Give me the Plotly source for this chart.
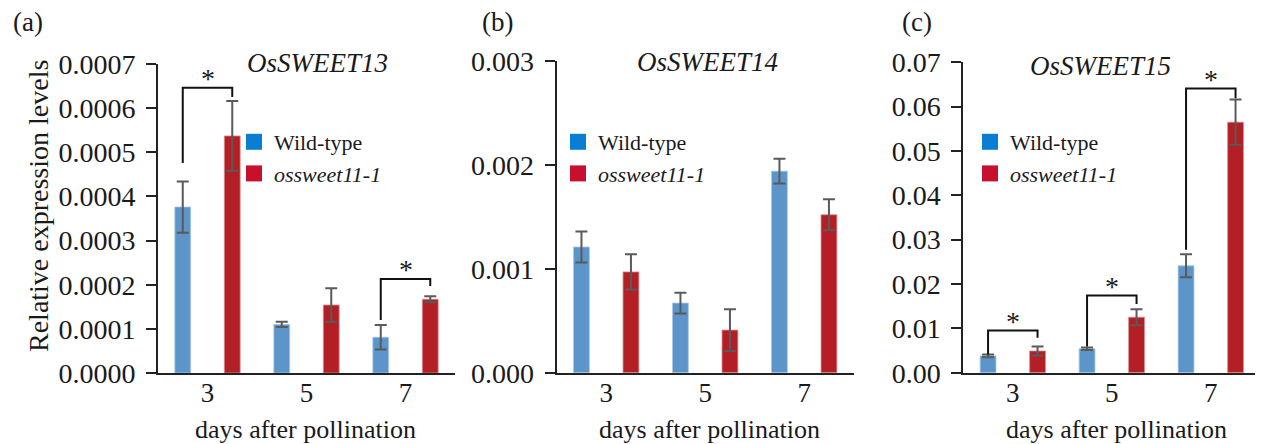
import plotly.graph_objects as go

# ---------------- data ----------------
days = ["3", "5", "7"]
series_names = ["Wild-type", "<i>ossweet11-1</i>"]
genes = ["OsSWEET13", "OsSWEET14", "OsSWEET15"]
panel_labels = ["(a)", "(b)", "(c)"]

a_wt = [0.000376, 0.000110, 0.000081]
a_wt_err = [0.000058, 0.000006, 0.000028]
a_mut = [0.000537, 0.000154, 0.000167]
a_mut_err = [0.000079, 0.000038, 0.000007]

b_wt = [0.00121, 0.00067, 0.00194]
b_wt_err = [0.00015, 0.00010, 0.00012]
b_mut = [0.00097, 0.00041, 0.00152]
b_mut_err = [0.00017, 0.00020, 0.00015]

c_wt = [0.0038, 0.0054, 0.0241]
c_wt_err = [0.0003, 0.0003, 0.0026]
c_mut = [0.0049, 0.0125, 0.0565]
c_mut_err = [0.0010, 0.0018, 0.0051]

# significance brackets (category index, left end, right end, top)
a_sig_cat = [0, 2]
a_sig_left = [0.000476, 0.000120]
a_sig_right = [0.000625, 0.000197]
a_sig_top = [0.000646, 0.000213]

b_sig_cat = []
b_sig_left = []
b_sig_right = []
b_sig_top = []

c_sig_cat = [0, 1, 2]
c_sig_left = [0.0041, 0.0059, 0.0277]
c_sig_right = [0.0079, 0.0155, 0.0619]
c_sig_top = [0.0095, 0.0174, 0.0641]

a_ticks = [0, 0.0001, 0.0002, 0.0003, 0.0004, 0.0005, 0.0006, 0.0007]
b_ticks = [0, 0.001, 0.002, 0.003]
c_ticks = [0, 0.01, 0.02, 0.03, 0.04, 0.05, 0.06, 0.07]

# ---------------- style ----------------
PAGE_W, PAGE_H = 1263, 444
OFF = 8  # default body margin of the html page
W, H = PAGE_W - OFF, PAGE_H - OFF
FONT = "Liberation Serif, Times New Roman, serif"
BAR_BLUE = "#5b95c9"
BAR_RED = "#b41e25"
LEG_BLUE = "#0a7ed2"
LEG_RED = "#c8102e"
ERR = "#5a5a5a"
AX = "#222222"
TXT = "#1a1a1a"

def px(x):
    return (x - OFF) / W

def py(y):
    return 1 - (y - OFF) / H

panels = [
    dict(wt=a_wt, wte=a_wt_err, mu=a_mut, mue=a_mut_err, ticks=a_ticks, fmt=".4f",
         dom_x=(158, 455), dom_y=(373, 64), rng=(0, 0.0007),
         sig=(a_sig_cat, a_sig_left, a_sig_right, a_sig_top),
         title_xy=(317, 63), label_xy=(28, 22), xt=(305, 429), leg=(234, 121)),
    dict(wt=b_wt, wte=b_wt_err, mu=b_mut, mue=b_mut_err, ticks=b_ticks, fmt=".3f",
         dom_x=(556.7, 853.7), dom_y=(372.7, 61), rng=(0, 0.003),
         sig=(b_sig_cat, b_sig_left, b_sig_right, b_sig_top),
         title_xy=(708, 62), label_xy=(497, 22), xt=(709, 429), leg=(558, 121)),
    dict(wt=c_wt, wte=c_wt_err, mu=c_mut, mue=c_mut_err, ticks=c_ticks, fmt=".2f",
         dom_x=(963.3, 1260.3), dom_y=(372.7, 62.3), rng=(0, 0.07),
         sig=(c_sig_cat, c_sig_left, c_sig_right, c_sig_top),
         title_xy=(1100, 66), label_xy=(917, 22), xt=(1116, 429), leg=(970, 121)),
]

cats = list(range(len(days)))
fig = go.Figure()
annotations = []
layout_axes = {}

for i, p in enumerate(panels):
    n = "" if i == 0 else str(i + 1)
    xa, ya = "x" + n, "y" + n
    leg = "legend" + n

    fig.add_trace(go.Bar(
        x=cats, y=p["wt"], xaxis=xa, yaxis=ya, width=0.16, offset=-0.33,
        marker=dict(color=BAR_BLUE, line=dict(color="#a9c8e6", width=0.8)),
        error_y=dict(type="data", array=p["wte"], color=ERR, thickness=2, width=6),
        showlegend=False, name=series_names[0]))
    fig.add_trace(go.Bar(
        x=cats, y=p["mu"], xaxis=xa, yaxis=ya, width=0.16, offset=0.17,
        marker=dict(color=BAR_RED, line=dict(color="#d98a8d", width=0.8)),
        error_y=dict(type="data", array=p["mue"], color=ERR, thickness=2, width=6),
        showlegend=False, name=series_names[1]))

    # legend entries
    for nm, col in zip(series_names, [LEG_BLUE, LEG_RED]):
        fig.add_trace(go.Scatter(
            x=[None], y=[None], xaxis=xa, yaxis=ya, mode="markers",
            marker=dict(symbol="square", size=18, color=col),
            name=nm, legend=leg, showlegend=True))

    # significance brackets
    scat, sl, sr, stop = p["sig"]
    for k in range(len(scat)):
        c = scat[k]
        fig.add_trace(go.Scatter(
            x=[c - 0.25, c - 0.25, c + 0.25, c + 0.25],
            y=[sl[k], stop[k], stop[k], sr[k]],
            xaxis=xa, yaxis=ya, mode="lines",
            line=dict(color="#111111", width=2), showlegend=False, hoverinfo="skip"))
        annotations.append(dict(
            x=c, y=stop[k], xref=xa, yref=ya, text="*", showarrow=False,
            yanchor="middle", yshift=9, font=dict(family=FONT, size=28, color=TXT)))

    layout_axes["xaxis" + n] = dict(
        domain=[px(p["dom_x"][0]), px(p["dom_x"][1])], anchor=ya,
        range=[-0.5, 2.5], tickvals=cats, ticktext=days, ticks="",
        ticklabelstandoff=-5, automargin=False,
        showline=True, linecolor=AX, linewidth=2, showgrid=False, zeroline=False,
        tickfont=dict(family=FONT, size=27, color=TXT), fixedrange=True)
    layout_axes["yaxis" + n] = dict(
        domain=[py(p["dom_y"][0]), py(p["dom_y"][1])], anchor=xa,
        range=list(p["rng"]), tickvals=p["ticks"], tickformat=p["fmt"],
        ticks="outside", ticklen=10, tickwidth=2, tickcolor=AX, ticklabelstandoff=5,
        automargin=False,
        showline=True, linecolor=AX, linewidth=2, showgrid=False, zeroline=False,
        tickfont=dict(family=FONT, size=28, color=TXT), fixedrange=True)

    layout_axes[leg] = dict(
        x=px(p["leg"][0]), y=py(p["leg"][1]), xanchor="left", yanchor="top",
        bgcolor="rgba(0,0,0,0)", borderwidth=0, tracegroupgap=0,
        font=dict(family=FONT, size=22, color=TXT), itemwidth=30)

    annotations.append(dict(
        x=px(p["title_xy"][0]), y=py(p["title_xy"][1]), xref="paper", yref="paper",
        text="<i>" + genes[i] + "</i>", showarrow=False, xanchor="center", yanchor="middle",
        font=dict(family=FONT, size=27, color=TXT)))
    annotations.append(dict(
        x=px(p["label_xy"][0]), y=py(p["label_xy"][1]), xref="paper", yref="paper",
        text=panel_labels[i], showarrow=False, xanchor="center", yanchor="middle",
        font=dict(family=FONT, size=27, color=TXT)))
    annotations.append(dict(
        x=px(p["xt"][0]), y=py(p["xt"][1]), xref="paper", yref="paper",
        text="days after pollination", showarrow=False, xanchor="center", yanchor="middle",
        font=dict(family=FONT, size=26, color=TXT)))

annotations.append(dict(
    x=px(38), y=py(206), xref="paper", yref="paper", text="Relative expression levels",
    showarrow=False, textangle=-90, xanchor="center", yanchor="middle",
    font=dict(family=FONT, size=28, color=TXT)))

fig.update_layout(
    width=W, height=H, margin=dict(l=0, r=0, t=0, b=0, pad=0, autoexpand=False),
    paper_bgcolor="white", plot_bgcolor="white", barmode="overlay",
    annotations=annotations, **layout_axes)

fig.write_html("out.html")
